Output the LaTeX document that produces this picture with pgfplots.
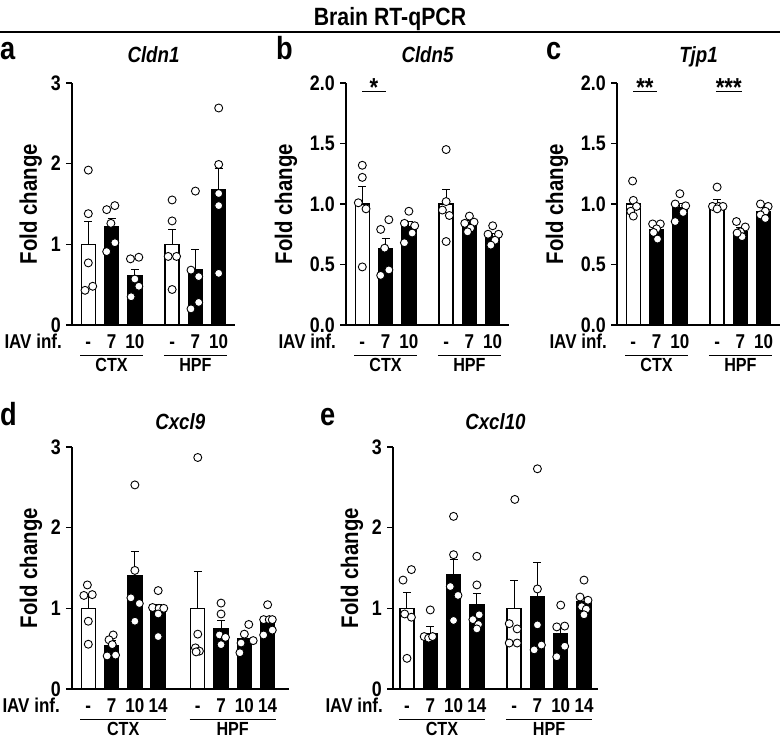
\documentclass[border=0pt]{standalone}
\usepackage{fontspec}
\setmainfont{Liberation Sans}[FakeStretch=0.85]
\usepackage{pgfplots}
\pgfplotsset{compat=1.18}

\newcommand\tk{\bfseries\fontsize{21}{21}\selectfont}
\newcommand\iav{\bfseries\fontsize{20}{20}\selectfont}
\newcommand\grp{\bfseries\fontsize{19}{19}\selectfont}
\newcommand\lb{\bfseries\fontsize{24}{24}\selectfont}
\newcommand\ttl{\bfseries\itshape\fontsize{22}{22}\selectfont}
\newcommand\st{\bfseries\fontsize{26}{26}\selectfont}

\pgfplotsset{
  panel/.style={
    scale only axis, height=242pt, ymin=0,
    axis x line=bottom, axis y line=left,
    axis line style={-, line width=1.4pt},
    clip=false,
    xtick align=inside, ytick align=outside,
    major tick length=6pt,
    every tick/.style={black, line width=1.4pt},
    xtick style={draw=none},
    tick label style={font=\tk},
    yticklabel style={/pgf/number format/assume math mode=true, inner sep=1pt, xshift=-4pt},
    xticklabel style={anchor=base, yshift=-24pt, font=\iav},
    anchor=south west,
  },
  wbar/.style={ybar, bar width=0.6, bar shift=0pt, fill=white, draw=black, line width=1.4pt,
    error bars/y dir=plus, error bars/y explicit,
    error bars/error bar style={line width=1pt, black},
    error bars/error mark options={rotate=90, mark size=4pt, line width=1pt, black}},
  bbar/.style={wbar, fill=black},
  pts/.style={black, only marks, mark=*, mark size=4pt, mark options={fill=white, draw=black, line width=0.9pt, solid}},
}

\begin{document}
\begin{tikzpicture}
\path[use as bounding box] (0,0) rectangle (780pt,739pt);

% title
\node[anchor=base, font=\bfseries\fontsize{25}{25}\selectfont] at (390pt,713pt) {Brain RT-qPCR};
\draw[line width=2pt] (0,707pt) -- (780pt,707pt);

% panel letters
\node[anchor=base west, font=\bfseries\fontsize{32}{32}\selectfont, inner sep=0pt] at (0pt,679pt) {a};
\node[anchor=base west, font=\bfseries\fontsize{32}{32}\selectfont, inner sep=0pt] at (276pt,679pt) {b};
\node[anchor=base west, font=\bfseries\fontsize{32}{32}\selectfont, inner sep=0pt] at (546pt,679pt) {c};
\node[anchor=base west, font=\bfseries\fontsize{32}{32}\selectfont, inner sep=0pt] at (0pt,313pt) {d};
\node[anchor=base west, font=\bfseries\fontsize{32}{32}\selectfont, inner sep=0pt] at (320pt,313pt) {e};

% ---------------- panel a
\begin{axis}[panel, at={(72pt,414pt)}, width=163pt, xmin=-0.7, xmax=6.3, ymax=3,
  ytick={0,1,2,3}, xtick={0,1,2,3.6,4.6,5.6}, xticklabels={-,7,10,-,7,10}]
\addplot[wbar] coordinates {(0,1.0) +- (0,0.28) (3.6,1.0) +- (0,0.19)};
\addplot[bbar] coordinates {(1,1.22) +- (0,0.10) (2,0.61) +- (0,0.08) (4.6,0.68) +- (0,0.26) (5.6,1.68) +- (0,0.26)};
\addplot[pts] coordinates {
(0,1.92) (0,1.38) (0,0.77) (0.19,0.48) (-0.14,0.43)
(0.79,1.43) (1.14,1.48) (0.97,1.26) (1.14,1.02) (0.79,0.91)
(1.81,0.82) (2.17,0.84) (2,0.57) (2.17,0.48) (1.84,0.35)
(3.6,1.55) (3.6,1.29) (3.43,0.85) (3.79,0.85) (3.6,0.44)
(4.6,1.66) (4.41,0.68) (4.74,0.60) (4.74,0.28) (4.41,0.20)
(5.6,2.69) (5.6,1.99) (5.6,1.63) (5.6,1.48) (5.6,0.64)};
\node[anchor=base, font=\ttl] at ([yshift=20pt]rel axis cs:0.5,1) {Cldn1};
\node[rotate=90, anchor=base, font=\lb] at ([xshift=-35pt]rel axis cs:0,0.5) {Fold change};
\node[anchor=base east, font=\iav, inner sep=0pt] at ([xshift=-10pt,yshift=-24pt]rel axis cs:0,0) {IAV inf.};
\draw[line width=1pt] ([yshift=-31pt]axis cs:-0.35,0) -- ([yshift=-31pt]axis cs:2.35,0);
\draw[line width=1pt] ([yshift=-31pt]axis cs:3.25,0) -- ([yshift=-31pt]axis cs:5.95,0);
\node[anchor=base, font=\grp, inner sep=0pt] at ([yshift=-47pt]axis cs:1,0) {CTX};
\node[anchor=base, font=\grp, inner sep=0pt] at ([yshift=-47pt]axis cs:4.6,0) {HPF};
\end{axis}

% ---------------- panel b
\begin{axis}[panel, at={(346pt,414pt)}, width=163pt, xmin=-0.7, xmax=6.3, ymax=2,
  ytick={0,0.5,1,1.5,2}, yticklabel style={/pgf/number format/.cd, fixed, fixed zerofill, precision=1},
  xtick={0,1,2,3.6,4.6,5.6}, xticklabels={-,7,10,-,7,10}]
\addplot[wbar] coordinates {(0,1.0) +- (0,0.145) (3.6,1.0) +- (0,0.12)};
\addplot[bbar] coordinates {(1,0.63) +- (0,0.085) (2,0.81) +- (0,0.045) (4.6,0.83) +- (0,0.03) (5.6,0.73) +- (0,0.03)};
\addplot[pts] coordinates {
(0,1.32) (0,1.22) (-0.17,1.01) (0.16,0.96) (0,0.48)
(0.79,0.79) (1.14,0.87) (0.96,0.635) (0.79,0.41) (1.14,0.455)
(2,0.94) (1.81,0.84) (2.25,0.82) (2.14,0.76) (1.81,0.68)
(3.6,1.45) (3.6,1.02) (3.44,0.95) (3.74,0.905) (3.6,0.69)
(4.6,0.90) (4.4,0.84) (4.8,0.85) (4.65,0.80) (4.52,0.77)
(5.6,0.82) (5.4,0.75) (5.85,0.75) (5.7,0.70) (5.52,0.66)};
\node[anchor=base, font=\ttl] at ([yshift=20pt]rel axis cs:0.5,1) {Cldn5};
\node[rotate=90, anchor=base, font=\lb] at ([xshift=-54pt]rel axis cs:0,0.5) {Fold change};
\node[anchor=base east, font=\iav, inner sep=0pt] at ([xshift=-10pt,yshift=-24pt]rel axis cs:0,0) {IAV inf.};
\draw[line width=1pt] ([yshift=-31pt]axis cs:-0.35,0) -- ([yshift=-31pt]axis cs:2.35,0);
\draw[line width=1pt] ([yshift=-31pt]axis cs:3.25,0) -- ([yshift=-31pt]axis cs:5.95,0);
\node[anchor=base, font=\grp, inner sep=0pt] at ([yshift=-47pt]axis cs:1,0) {CTX};
\node[anchor=base, font=\grp, inner sep=0pt] at ([yshift=-47pt]axis cs:4.6,0) {HPF};
\draw[line width=1pt] (axis cs:0,1.93) -- (axis cs:1,1.93);
\node[font=\st, inner sep=0pt] at ([yshift=4pt]axis cs:0.5,1.93) {*};
\end{axis}

% ---------------- panel c
\begin{axis}[panel, at={(617pt,414pt)}, width=163pt, xmin=-0.7, xmax=6.3, ymax=2,
  ytick={0,0.5,1,1.5,2}, yticklabel style={/pgf/number format/.cd, fixed, fixed zerofill, precision=1},
  xtick={0,1,2,3.6,4.6,5.6}, xticklabels={-,7,10,-,7,10}]
\addplot[wbar] coordinates {(0,1.0) +- (0,0.04) (3.6,1.0) +- (0,0.04)};
\addplot[bbar] coordinates {(1,0.79) +- (0,0.025) (2,0.97) +- (0,0.035) (4.6,0.775) +- (0,0.03) (5.6,0.94) +- (0,0.03)};
\addplot[pts] coordinates {
(-0.03,1.19) (0,1.03) (0.14,0.98) (-0.11,0.94) (0,0.90)
(0.83,0.835) (1.16,0.835) (1,0.795) (0.87,0.765) (1.04,0.71)
(2,1.085) (1.8,1.0) (2.25,0.985) (2.14,0.93) (1.8,0.855)
(3.6,1.14) (3.4,0.98) (3.67,0.98) (3.85,0.98) (3.6,0.96)
(4.43,0.855) (4.81,0.81) (4.6,0.77) (4.67,0.73) (4.46,0.76)
(5.46,1.0) (5.79,0.98) (5.67,0.94) (5.46,0.91) (5.67,0.88)};
\node[anchor=base, font=\ttl] at ([yshift=20pt]rel axis cs:0.5,1) {Tjp1};
\node[rotate=90, anchor=base, font=\lb] at ([xshift=-54pt]rel axis cs:0,0.5) {Fold change};
\node[anchor=base east, font=\iav, inner sep=0pt] at ([xshift=-10pt,yshift=-24pt]rel axis cs:0,0) {IAV inf.};
\draw[line width=1pt] ([yshift=-31pt]axis cs:-0.35,0) -- ([yshift=-31pt]axis cs:2.35,0);
\draw[line width=1pt] ([yshift=-31pt]axis cs:3.25,0) -- ([yshift=-31pt]axis cs:5.95,0);
\node[anchor=base, font=\grp, inner sep=0pt] at ([yshift=-47pt]axis cs:1,0) {CTX};
\node[anchor=base, font=\grp, inner sep=0pt] at ([yshift=-47pt]axis cs:4.6,0) {HPF};
\draw[line width=1pt] (axis cs:0,1.93) -- (axis cs:1,1.93);
\node[font=\st, inner sep=0pt] at ([yshift=4pt]axis cs:0.5,1.93) {**};
\draw[line width=1pt] (axis cs:3.55,1.93) -- (axis cs:4.65,1.93);
\node[font=\st, inner sep=0pt] at ([yshift=4pt]axis cs:4.1,1.93) {***};
\end{axis}

% ---------------- panel d
\begin{axis}[panel, at={(72pt,50pt)}, width=216.6pt, xmin=-0.7, xmax=8.6, ymax=3,
  ytick={0,1,2,3}, xtick={0,1,2,3,4.7,5.7,6.7,7.7}, xticklabels={-,7,10,14,-,7,10,14}]
\addplot[wbar] coordinates {(0,1.0) +- (0,0.15) (4.7,1.0) +- (0,0.46)};
\addplot[bbar] coordinates {(1,0.54) +- (0,0.06) (2,1.40) +- (0,0.31) (3,0.97) +- (0,0.08) (5.7,0.75) +- (0,0.10) (6.7,0.62) +- (0,0.05) (7.7,0.84) +- (0,0.05)};
\addplot[pts] coordinates {
(-0.04,1.29) (-0.19,1.16) (0.17,1.17) (0,0.84) (0,0.555)
(1.07,0.67) (0.89,0.61) (1.03,0.55) (0.81,0.41) (1.17,0.42)
(2,2.53) (2,1.47) (1.83,1.13) (2.19,1.06) (2,0.84)
(3,1.22) (2.76,1.01) (3.04,1.0) (3.24,1.0) (3,0.93) (3,0.65)
(4.7,2.87) (4.7,0.68) (4.6,0.51) (4.77,0.47) (4.63,0.46)
(5.7,1.065) (5.7,0.93) (5.63,0.67) (5.89,0.64) (5.7,0.55)
(6.89,0.80) (6.7,0.68) (7.08,0.60) (6.56,0.57) (6.51,0.45)
(7.7,1.045) (7.53,0.86) (7.77,0.86) (7.9,0.86) (7.9,0.73) (7.53,0.67)};
\node[anchor=base, font=\ttl] at ([yshift=17pt]rel axis cs:0.5,1) {Cxcl9};
\node[rotate=90, anchor=base, font=\lb] at ([xshift=-35pt]rel axis cs:0,0.5) {Fold change};
\node[anchor=base east, font=\iav, inner sep=0pt] at ([xshift=-12pt,yshift=-24pt]rel axis cs:0,0) {IAV inf.};
\draw[line width=1pt] ([yshift=-31pt]axis cs:-0.35,0) -- ([yshift=-31pt]axis cs:3.35,0);
\draw[line width=1pt] ([yshift=-31pt]axis cs:4.35,0) -- ([yshift=-31pt]axis cs:8.05,0);
\node[anchor=base, font=\grp, inner sep=0pt] at ([yshift=-46.5pt]axis cs:1.5,0) {CTX};
\node[anchor=base, font=\grp, inner sep=0pt] at ([yshift=-46.5pt]axis cs:6.2,0) {HPF};
\end{axis}

% ---------------- panel e
\begin{axis}[panel, at={(393pt,50pt)}, width=205pt, xmin=-0.6, xmax=8.2, ymax=3,
  ytick={0,1,2,3}, xtick={0,1,2,3,4.6,5.6,6.6,7.6}, xticklabels={-,7,10,14,-,7,10,14}]
\addplot[wbar] coordinates {(0,1.0) +- (0,0.2) (4.6,1.0) +- (0,0.34)};
\addplot[bbar] coordinates {(1,0.69) +- (0,0.08) (2,1.42) +- (0,0.18) (3,1.04) +- (0,0.15) (5.6,1.15) +- (0,0.42) (6.6,0.68) +- (0,0.10) (7.6,1.08) +- (0,0.05)};
\addplot[pts] coordinates {
(-0.17,1.35) (0.19,1.48) (-0.1,0.93) (0.19,0.89) (0,0.38)
(1,0.98) (0.74,0.65) (0.93,0.63) (1.1,0.65)
(2,2.14) (2,1.665) (1.86,1.27) (2.19,1.16) (2,0.85)
(3,1.645) (3,1.29) (2.83,0.86) (3.07,0.80) (3,0.745) (3.1,0.92)
(4.63,2.35) (4.39,0.81) (4.73,0.745) (4.39,0.57) (4.73,0.57)
(5.6,2.73) (5.6,1.24) (5.6,0.795) (5.46,0.485) (5.77,0.545)
(6.6,1.04) (6.43,0.77) (6.77,0.78) (6.77,0.53) (6.43,0.40)
(7.6,1.35) (7.43,1.14) (7.77,1.10) (7.5,1.02) (7.7,0.99) (7.6,0.92)};
\node[anchor=base, font=\ttl] at ([yshift=17pt]rel axis cs:0.5,1) {Cxcl10};
\node[rotate=90, anchor=base, font=\lb] at ([xshift=-35pt]rel axis cs:0,0.5) {Fold change};
\node[anchor=base east, font=\iav, inner sep=0pt] at ([xshift=-10pt,yshift=-24pt]rel axis cs:0,0) {IAV inf.};
\draw[line width=1pt] ([yshift=-31pt]axis cs:-0.35,0) -- ([yshift=-31pt]axis cs:3.35,0);
\draw[line width=1pt] ([yshift=-31pt]axis cs:4.25,0) -- ([yshift=-31pt]axis cs:7.95,0);
\node[anchor=base, font=\grp, inner sep=0pt] at ([yshift=-46.5pt]axis cs:1.5,0) {CTX};
\node[anchor=base, font=\grp, inner sep=0pt] at ([yshift=-46.5pt]axis cs:6.1,0) {HPF};
\end{axis}
\end{tikzpicture}
\end{document}
